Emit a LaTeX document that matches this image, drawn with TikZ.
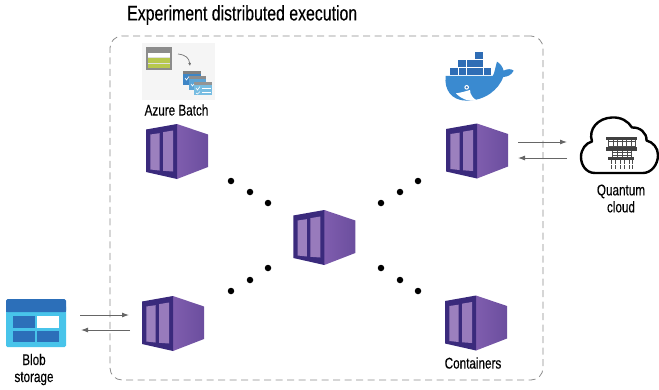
\documentclass[tikz,border=0pt]{standalone}
\usepackage{fontspec}
\setmainfont[FakeStretch=0.755,FakeBold=0.25]{Liberation Sans}
\usetikzlibrary{arrows.meta}
\definecolor{pdark}{HTML}{3A2A7C}
\definecolor{pmid}{HTML}{7F5DAE}
\definecolor{pright}{HTML}{6B4E9E}
\definecolor{plight}{HTML}{9C80BE}
\definecolor{dock}{HTML}{3A8AD0}
\definecolor{dockd}{HTML}{2F6DB5}
\definecolor{blobd}{HTML}{2C6FB9}
\definecolor{blobl}{HTML}{48C4EA}
\definecolor{bgreen}{HTML}{B7C84E}
\definecolor{win1}{HTML}{3E86C6}
\definecolor{win2}{HTML}{5CA4D6}
\definecolor{win3}{HTML}{78BDE2}
\tikzset{
  lab/.style={font=\fontsize{15.5}{17}\selectfont,align=center,text=black,inner sep=0pt},
  dotn/.style={circle,fill=black,inner sep=0pt,minimum size=6.5pt},
  flow/.style={draw=black!60,line width=.9pt,-{Latex[length=7pt,width=5pt]}},
  pics/box/.style={code={
    \shade[left color=pmid,right color=pright] (0,-27.5) -- (31,-17) -- (31,15.5) -- (0,27.5) -- cycle;
    \fill[pdark] (-31,-22) -- (0,-27.5) -- (0,27.5) -- (-31,20.5) -- cycle;
    \fill[plight] (-26.7,-17) -- (-17.5,-18.3) -- (-17.5,19) -- (-26.7,18) -- cycle;
    \fill[plight!85!pmid] (-14,-19.3) -- (-4,-21) -- (-4,20) -- (-14,19.3) -- cycle;
  }}
}
\begin{document}
\begin{tikzpicture}[x=1pt,y=-1pt]
\useasboundingbox (0,0) rectangle (659,389);
% dashed frame
\node[draw=black!45,dashed,dash pattern=on 7pt off 4.5pt,line width=.8pt,rounded corners=12pt,minimum width=433pt,minimum height=344pt,inner sep=0pt] (frame) at (326.5,208) {};
\node[lab,font=\fontsize{21}{23}\selectfont,anchor=west] (title) at (127,15) {Experiment distributed execution};
% containers
\pic (c1) at (177,151.5) {box};
\pic (c2) at (477,151) {box};
\pic (c3) at (324.3,237.5) {box};
\pic (c4) at (173,323.5) {box};
\pic (c5) at (476,323) {box};
% dots
\foreach \n/\x/\y in {a/231/181,b/250/192,c/268/203,d/381/203,e/400/192,f/418/181,g/231/291,h/250/280,i/268/268,j/381/268,k/400/280,l/418/291}
  \node[dotn] (dot\n) at (\x,\y) {};
% labels
\node[lab] (batch) at (176.5,110) {Azure Batch};
\node[lab] (cont) at (473,363) {Containers};
\node[lab] (quantum) at (621,198.5) {Quantum\\cloud};
\node[lab] (blob) at (34,369.5) {Blob\\storage};
% flows
\coordinate (qa) at (518,142); \coordinate (qb) at (567,142);
\coordinate (qc) at (567,158); \coordinate (qd) at (518,158);
\coordinate (ba) at (80,315); \coordinate (bb) at (129,315);
\coordinate (bc) at (130,330); \coordinate (bd) at (81,330);
\draw[flow] (qa) -- (qb);
\draw[flow] (qc) -- (qd);
\draw[flow] (ba) -- (bb);
\draw[flow] (bc) -- (bd);
% blob storage
\fill[blobl,rounded corners=1.5pt] (6,305) rectangle (66,347);
\fill[blobd,rounded corners=1.5pt] (6,299) rectangle (66,312);
\fill[blobd] (6,305) rectangle (66,312);
\fill[blobd] (12.7,316) rectangle (34.7,328);
\fill[white] (37.3,316) rectangle (59.3,328);
\fill[blobd] (12.7,330.7) rectangle (34.7,342.3);
\fill[blobd] (37.3,330.7) rectangle (59.3,342.3);
% Azure Batch icon
\fill[black!4] (142,43) rectangle (215,100);
\fill[black!45] (146,47.3) rectangle (171.7,69.5);
\fill[black!12] (148,53) rectangle (170,68);
\fill[white] (148,53.3) rectangle (170,56.8);
\fill[bgreen] (148,58.3) rectangle (170,62.7);
\fill[bgreen] (148,64) rectangle (170,68.3);
\draw[black!55,line width=.7pt,-{Latex[length=3pt,width=3pt]}] (178,54) .. controls (186,55) and (189,58) .. (190,66);
\fill[win1] (183.3,70.7) rectangle (200.7,85);
\fill[black!50] (183.3,70.7) rectangle (200.7,73.5);
\fill[win2] (189.3,76) rectangle (206,90);
\fill[black!45] (189.3,76) rectangle (206,79);
\fill[win3] (194.3,81.7) rectangle (212.3,95);
\fill[black!42] (194.3,81.7) rectangle (212.3,84.5);
\draw[white,line width=.6pt] (185,78) -- (186.5,80) -- (189,76.5) (191,84) -- (192.5,86) -- (194,84);
\draw[white,line width=.6pt] (196,88) -- (197.5,90) -- (200,86.5) (196,93) -- (197.5,94) -- (200,91.5);
\draw[white,line width=.7pt] (202,88) -- (210.5,88) (202,92) -- (210.5,92);
% Docker whale
\begin{scope}[shift={(430,40)},x=.3333pt,y=-.3333pt]
\fill[dock] (47,108) -- (188,108) .. controls (194,100) and (196,80) .. (201,65)
  .. controls (210,70) and (218,80) .. (221,92) .. controls (232,86) and (244,86) .. (251,92)
  .. controls (244,106) and (232,110) .. (220,111)
  .. controls (205,150) and (165,182) .. (110,182)
  .. controls (65,182) and (42,150) .. (47,108) -- cycle;
\fill[white] (78,160) .. controls (95,158) and (112,152) .. (120,150) .. controls (120,165) and (130,175) .. (140,181) .. controls (115,185) and (95,178) .. (78,160) -- cycle;
\fill[white] (110,142) circle (7);
\fill[dockd] (110,142) circle (3.5);
\foreach \x in {60,86,111,136,161}
  \fill[dockd] (\x,83) rectangle +(23,22);
\foreach \x in {85,111,136}
  \fill[dockd] (\x,60) rectangle +(23,21);
\fill[dockd] (136,35) rectangle +(24,23);
\end{scope}
% cloud
\draw[black,line width=2.4pt,fill=white,line join=round] (595,173)
  .. controls (586,173) and (581,165) .. (581,157)
  .. controls (581,149) and (586,143) .. (592,141.5)
  .. controls (588,129) and (598,118) .. (612,117.5)
  .. controls (621,117) and (628,121) .. (632,127.5)
  .. controls (640,127) and (647,133) .. (646.5,140.5)
  .. controls (653,142) and (658,148) .. (658,155)
  .. controls (658,165) and (651,173) .. (643,173) -- cycle;
% quantum chip
\fill[black!75] (606,136.7) rectangle (637.3,140);
\fill[black!75] (606,147.3) rectangle (637.3,150.7);
\fill[black!75] (608,156.7) rectangle (634,160);
\foreach \x in {608.5,613,617.5,622,626.5,631,635}
  \draw[black!70,line width=.7pt] (\x,140) -- (\x,147.3);
\draw[black!70,line width=.6pt] (608,141.5) -- (635,141.5) (608,145.8) -- (635,145.8);
\foreach \x in {612,617,622,627,631}
  \draw[black!70,line width=.7pt] (\x,150.7) -- (\x,156.7);
\draw[black!70,line width=.6pt] (612,152) -- (631,152) (612,155.5) -- (631,155.5);
\foreach \x in {611,615.5,620,624.5,629,632.5}
  \draw[black!70,line width=.8pt,dash pattern=on 4pt off 1pt] (\x,160) -- (\x,168.5);
\end{tikzpicture}
\end{document}
